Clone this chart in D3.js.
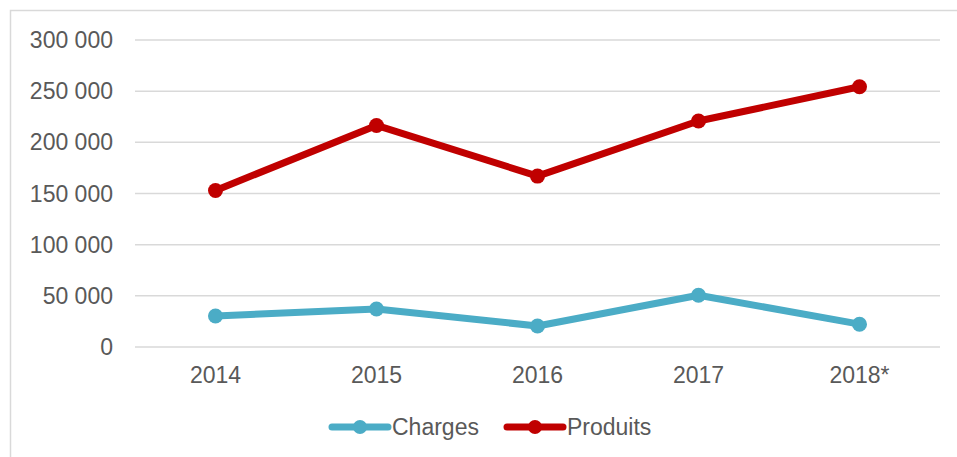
<!DOCTYPE html>
<html>
<head>
<meta charset="utf-8">
<script src="https://cdn.jsdelivr.net/npm/d3@7"></script>
<style>
  body { margin: 0; background: #fff; }
  text { font-family: "Liberation Sans", Arial, sans-serif; fill: #595959; }
</style>
</head>
<body>
<script>
// data
var years = ["2014", "2015", "2016", "2017", "2018*"];
var charges = [30300, 37200, 20500, 50600, 22300];
var produits = [153000, 216500, 167000, 220800, 254300];
var yTicks = [0, 50000, 100000, 150000, 200000, 250000, 300000];
var seriesNames = ["Charges", "Produits"];
var seriesColors = ["#4bacc6", "#c00000"];

var W = 957, H = 457;
var plotLeft = 135, plotRight = 940, plotTop = 40, plotBottom = 347;

var svg = d3.select("body").append("svg")
    .attr("width", W)
    .attr("height", H);

// chart frame (cut on right and bottom)
svg.append("rect")
    .attr("x", 10.5).attr("y", 10.5)
    .attr("width", 1000).attr("height", 1000)
    .attr("fill", "none")
    .attr("stroke", "#d9d9d9")
    .attr("stroke-width", 1.5);

var x = d3.scaleBand().domain(years).range([plotLeft, plotRight]);
var y = d3.scaleLinear().domain([0, 300000]).range([plotBottom, plotTop]);

var fmt = function (v) { return d3.format(",")(v).replace(/,/g, " "); };

// gridlines
svg.append("g").selectAll("line")
    .data(yTicks)
    .enter().append("line")
    .attr("x1", plotLeft).attr("x2", plotRight)
    .attr("y1", function (d) { return y(d); })
    .attr("y2", function (d) { return y(d); })
    .attr("stroke", "#d9d9d9")
    .attr("stroke-width", 1.5);

// y labels
svg.append("g").selectAll("text")
    .data(yTicks)
    .enter().append("text")
    .attr("x", 113)
    .attr("y", function (d) { return y(d); })
    .attr("dy", "0.35em")
    .attr("text-anchor", "end")
    .style("font-size", "23px")
    .text(fmt);

// x labels
svg.append("g").selectAll("text")
    .data(years)
    .enter().append("text")
    .attr("x", function (d) { return x(d) + x.bandwidth() / 2; })
    .attr("y", 375)
    .attr("dy", "0.35em")
    .attr("text-anchor", "middle")
    .style("font-size", "23px")
    .text(function (d) { return d; });

var line = d3.line()
    .x(function (d, i) { return x(years[i]) + x.bandwidth() / 2; })
    .y(function (d) { return y(d); });

[charges, produits].forEach(function (vals, k) {
    var g = svg.append("g");
    g.append("path")
        .datum(vals)
        .attr("d", line)
        .attr("fill", "none")
        .attr("stroke", seriesColors[k])
        .attr("stroke-width", 7)
        .attr("stroke-linejoin", "round")
        .attr("stroke-linecap", "round");
    g.selectAll("circle")
        .data(vals)
        .enter().append("circle")
        .attr("cx", function (d, i) { return x(years[i]) + x.bandwidth() / 2; })
        .attr("cy", function (d) { return y(d); })
        .attr("r", 7.5)
        .attr("fill", seriesColors[k]);
});

// legend
var legendX = [332, 507];
var legend = svg.append("g").selectAll("g")
    .data(seriesNames)
    .enter().append("g")
    .attr("transform", function (d, i) { return "translate(" + legendX[i] + ",427)"; });
legend.append("line")
    .attr("x1", 0).attr("x2", 56)
    .attr("stroke", function (d, i) { return seriesColors[i]; })
    .attr("stroke-width", 7)
    .attr("stroke-linecap", "round");
legend.append("circle")
    .attr("cx", 28).attr("r", 7)
    .attr("fill", function (d, i) { return seriesColors[i]; });
legend.append("text")
    .attr("x", 60)
    .attr("dy", "0.35em")
    .style("font-size", "23px")
    .text(function (d) { return d; });
</script>
</body>
</html>
